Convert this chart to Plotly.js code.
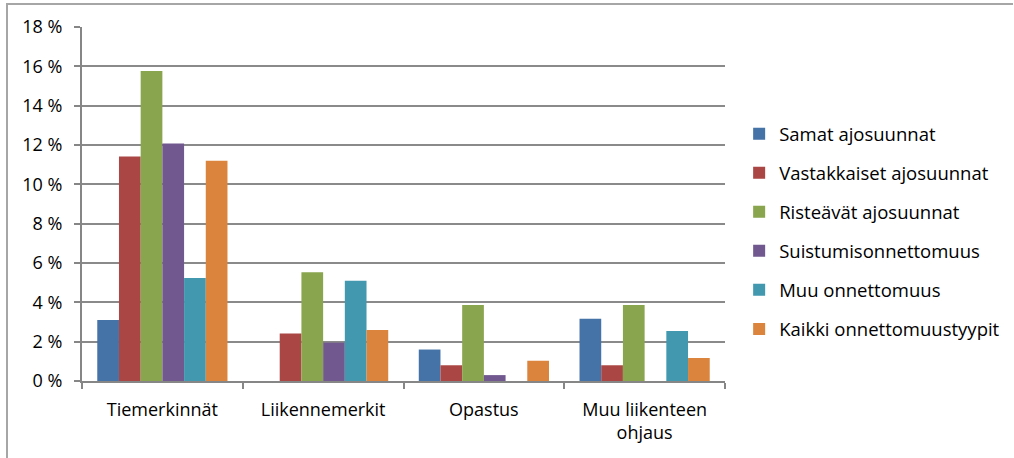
<!DOCTYPE html>
<html><head><meta charset="utf-8">
<script src="https://cdn.plot.ly/plotly-3.0.1.min.js"></script>
<style>
html,body{margin:0;padding:0;background:#fff;}
#wrap{position:relative;width:1014px;height:458px;}
#chart{width:1014px;height:458px;}
#bt{position:absolute;left:6px;top:3px;width:1007px;height:0;border-top:2px solid #a6a6a6;}
#bl{position:absolute;left:6px;top:3px;width:0;height:455px;border-left:2px solid #a6a6a6;}
</style></head><body>
<div id="wrap"><div id="chart"></div><div id="bt"></div><div id="bl"></div></div>
<script>
const categories = ["Tiemerkinnät", "Liikennemerkit", "Opastus", "Muu liikenteen<br>ohjaus"];
const seriesNames = ["Samat ajosuunnat", "Vastakkaiset ajosuunnat", "Risteävät ajosuunnat", "Suistumisonnettomuus", "Muu onnettomuus", "Kaikki onnettomuustyypit"];
const samat = [3.1, 0, 1.6, 3.17];
const vastakkaiset = [11.42, 2.42, 0.8, 0.8];
const risteavat = [15.76, 5.53, 3.86, 3.86];
const suistumis = [12.08, 1.95, 0.3, 0];
const muu = [5.24, 5.1, 0, 2.54];
const kaikki = [11.2, 2.59, 1.03, 1.17];
const yTicks = [0, 2, 4, 6, 8, 10, 12, 14, 16, 18];
const yTickLabels = yTicks.map(v => v + " %");
const colors = ["#4572A7", "#AA4643", "#89A54E", "#71588F", "#4198AF", "#DB843D"];
const values = [samat, vastakkaiset, risteavat, suistumis, muu, kaikki];

const font = "'Open Sans', sans-serif";
const traces = values.map((v, i) => ({
  type: "bar", x: categories, y: v, name: seriesNames[i],
  legendgroup: "g" + i,
  marker: {color: colors[i], line: {width: 0}}
}));

const layout = {
  width: 1014, height: 458,
  margin: {l: 82, r: 289, t: 27, b: 77, autoexpand: false},
  paper_bgcolor: "#fff", plot_bgcolor: "#fff",
  font: {family: font, size: 18, color: "#000"},
  barmode: "group", bargap: 0.19, bargroupgap: 0,
  showlegend: true,
  legend: {x: 1.022, y: 0.422, xanchor: "left", yanchor: "middle",
    font: {family: font, size: 18.5, color: "#000"},
    traceorder: "grouped", tracegroupgap: 12, itemwidth: 30},
  xaxis: {
    showgrid: false, showline: true, linecolor: "#868686", linewidth: 2,
    ticks: "outside", tickson: "boundaries", ticklen: 6, tickcolor: "#868686", tickwidth: 2,
    ticklabelstandoff: 11,
    tickfont: {family: font, size: 18}, fixedrange: true
  },
  yaxis: {
    range: [0, 18], tickvals: yTicks, ticktext: yTickLabels,
    showgrid: true, gridcolor: "#8a8a8a", gridwidth: 2,
    showline: true, linecolor: "#868686", linewidth: 2,
    ticks: "outside", ticklen: 6, tickcolor: "#868686", tickwidth: 2,
    ticklabelstandoff: 8,
    tickfont: {family: font, size: 18}, zeroline: false, fixedrange: true
  }
};
Plotly.newPlot("chart", traces, layout, {displayModeBar: false, staticPlot: true});
</script></body></html>
